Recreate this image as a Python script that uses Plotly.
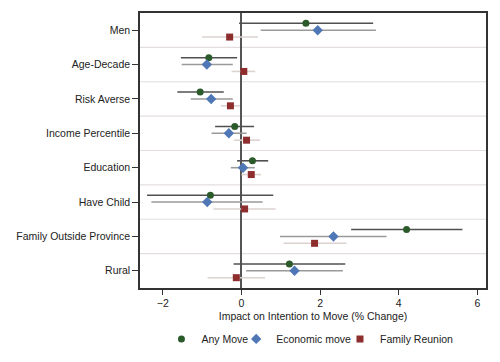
import plotly.graph_objects as go

categories = ["Men", "Age-Decade", "Risk Averse", "Income Percentile", "Education",
              "Have Child", "Family Outside Province", "Rural"]

any_est = [1.64, -0.83, -1.05, -0.17, 0.28, -0.79, 4.20, 1.22]
any_lo = [-0.06, -1.54, -1.63, -0.67, -0.11, -2.40, 2.79, -0.20]
any_hi = [3.35, -0.11, -0.45, 0.32, 0.68, 0.81, 5.62, 2.64]

eco_est = [1.94, -0.88, -0.77, -0.32, 0.04, -0.87, 2.34, 1.35]
eco_lo = [0.49, -1.52, -1.29, -0.76, -0.27, -2.29, 0.98, 0.12]
eco_hi = [3.42, -0.22, -0.22, 0.13, 0.34, 0.54, 3.69, 2.58]

fam_est = [-0.30, 0.06, -0.28, 0.13, 0.25, 0.08, 1.86, -0.13]
fam_lo = [-1.00, -0.25, -0.52, -0.19, 0.00, -0.71, 1.07, -0.86]
fam_hi = [0.42, 0.35, -0.04, 0.47, 0.50, 0.87, 2.67, 0.60]

n = len(categories)
ypos = [n - 1 - i for i in range(n)]
off = 0.2

series = [
    ("Any Move", any_est, any_lo, any_hi, off, "circle", "#2b5a2b", "#505050", 7, "legend", 0.062),
    ("Economic move", eco_est, eco_lo, eco_hi, 0.0, "diamond", "#4f76b5", "#9a9a9a", 8, "legend2", 0.278),
    ("Family Reunion", fam_est, fam_lo, fam_hi, -off, "square", "#8e2d2d", "#dcd2cf", 7, "legend3", 0.578),
]

FONT = "Liberation Sans, Arial, sans-serif"
fig = go.Figure()
legends = {}
for name, est, lo, hi, o, sym, mcol, lcol, ms, lg, lx in series:
    fig.add_trace(go.Scatter(
        x=est, y=[y + o for y in ypos], mode="markers", name=name, legend=lg,
        marker=dict(symbol=sym, color=mcol, size=ms, line=dict(width=0)),
        error_x=dict(type="data", symmetric=False,
                     array=[h - e for h, e in zip(hi, est)],
                     arrayminus=[e - l for e, l in zip(est, lo)],
                     color=lcol, thickness=1.6, width=0),
    ))
    legends[lg] = dict(x=lx, xanchor="left", y=-0.185, yanchor="middle",
                       orientation="h", itemwidth=30, bgcolor="rgba(0,0,0,0)",
                       font=dict(size=10.5, family=FONT))

shapes = []
for k in range(1, n):
    shapes.append(dict(type="line", xref="paper", x0=0, x1=1, yref="y",
                       y0=k - 0.5, y1=k - 0.5, line=dict(color="#e3dedd", width=1.2),
                       layer="below"))
# outer image border on the right edge
shapes.append(dict(type="line", xref="paper", x0=1.0347, x1=1.0347, yref="paper",
                   y0=-0.3, y1=1.05, line=dict(color="#333", width=1.5)))
fig.update_layout(shapes=shapes)

fig.update_layout(
    width=492, height=354,
    margin=dict(l=132, r=14, t=5, b=74, autoexpand=False),
    paper_bgcolor="white", plot_bgcolor="white",
    font=dict(family=FONT, size=10.3, color="#222"),
    showlegend=True,
    xaxis=dict(range=[-2.58, 6.22], tickvals=[-2, 0, 2, 4, 6],
               ticks="outside", ticklen=5, tickcolor="#333", tickfont=dict(size=10.5),
               showgrid=False, zeroline=True, zerolinecolor="#555", zerolinewidth=1.5,
               showline=True, linecolor="#333", linewidth=1.5, mirror=True,
               title=dict(text="Impact on Intention to Move (% Change)", standoff=4,
                          font=dict(size=10.5))),
    yaxis=dict(range=[-0.5, n - 0.5], tickvals=ypos, ticktext=categories,
               ticks="outside", ticklen=6, tickcolor="#333", tickfont=dict(size=10.5),
               showgrid=False, zeroline=False,
               showline=True, linecolor="#333", linewidth=1.5, mirror=True),
    **legends,
)

fig.write_html("out.html")
